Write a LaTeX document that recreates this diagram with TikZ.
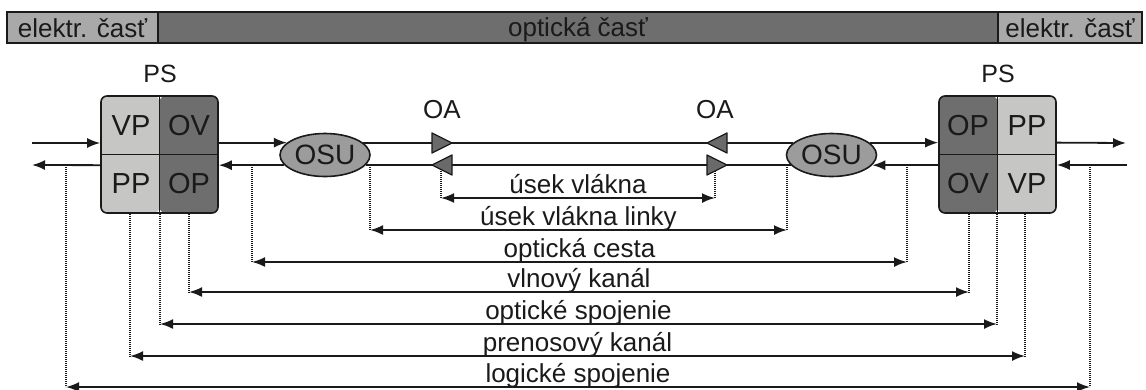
\documentclass[tikz,border=0pt]{standalone}
\usepackage{fontspec}
\setmainfont{Liberation Sans}
\usetikzlibrary{arrows.meta,shapes.geometric,calc}

\definecolor{ink}{HTML}{1A1A1A}
\definecolor{lightcell}{HTML}{C6C6C4}
\definecolor{darkcell}{HTML}{6E6E6E}
\definecolor{elekfill}{HTML}{A9A9A9}
\definecolor{optfill}{HTML}{6E6E6E}
\definecolor{osufill}{HTML}{9C9C9C}
\definecolor{oafill}{HTML}{6A6A6A}

\tikzset{
  conn/.style={draw=ink, line width=1.8pt},
  arr/.style={conn, -{Latex[length=13pt,width=10pt]}},
  dbl/.style={conn, {Latex[length=13pt,width=10pt]}-{Latex[length=13pt,width=10pt]}},
  dots/.style={draw=ink, line width=1.6pt, dash pattern=on 1.2pt off 0.8pt},
  txt/.style={text=ink, inner sep=0pt, font=\fontsize{26}{30}\selectfont},
  rowlbl/.style={txt, anchor=base, yshift=5pt},
  celltxt/.style={text=ink, inner sep=0pt, font=\fontsize{29}{32}\selectfont},
  barbox/.style={draw=ink, line width=1.8pt, minimum height=31pt, inner sep=0pt,
    text height=19pt, text depth=0pt, font=\fontsize{26}{30}\selectfont, text=ink},
  psbox/.style 2 args={draw=ink, line width=1.6pt, rounded corners=6pt,
    minimum width=117pt, minimum height=117pt, inner sep=0pt,
    path picture={
      \fill[#1] (path picture bounding box.south west) rectangle (path picture bounding box.north);
      \fill[#2] (path picture bounding box.south) rectangle (path picture bounding box.north east);
      \draw[ink, line width=1.3pt] (path picture bounding box.south) -- (path picture bounding box.north);
      \draw[ink, line width=1.3pt] (path picture bounding box.west) -- (path picture bounding box.east);
    }},
  osu/.style={ellipse, draw=ink, line width=1.6pt, fill=osufill, inner sep=0pt,
    minimum width=90pt, minimum height=43pt, text=ink, font=\fontsize{28}{30}\selectfont},
  pics/oatri/.style={code={
    \filldraw[fill=oafill, draw=ink, line width=1.3pt, line join=round]
      (-10,-10) -- (10,0) -- (-10,10) -- cycle;}}
}

\begin{document}
\begin{tikzpicture}[x=1pt, y=-1pt]
\useasboundingbox (0,0) rectangle (1146,389);

% header bar
\node[barbox, fill=optfill, minimum width=840pt, text height=17pt] (bopt) at (578,27.5) {optická časť};
\node[barbox, fill=elekfill, minimum width=151pt] (bel1) at (82.5,27.5) {elektr. časť};
\node[barbox, fill=elekfill, minimum width=144pt] (bel2) at (1070,27.5) {elektr. časť};

% terminal blocks
\node[psbox={lightcell}{darkcell}] (L) at (159.5,154.5) {};
\node[psbox={darkcell}{lightcell}] (R) at (997.5,154.5) {};
\node[txt, font=\fontsize{25}{28}\selectfont, anchor=base] (psL) at (160,82) {PS};
\node[txt, font=\fontsize{25}{28}\selectfont, anchor=base] (psR) at (998,82) {PS};

\node[celltxt] (lvp) at (131,126) {VP};
\node[celltxt] (lov) at (189,126) {OV};
\node[celltxt] (lpp) at (131,184) {PP};
\node[celltxt] (lop) at (189,184) {OP};
\node[celltxt] (rop) at (968,126) {OP};
\node[celltxt] (rpp) at (1027,126) {PP};
\node[celltxt] (rov) at (968,184) {OV};
\node[celltxt] (rvp) at (1027,184) {VP};

% multiplexers
\node[osu] (OSUL) at (325,155) {OSU};
\node[osu] (OSUR) at (831.5,155) {OSU};

% amplifier positions and labels
\coordinate (oa1) at (442,143);
\coordinate (oa2) at (442,165);
\coordinate (oa3) at (717,143);
\coordinate (oa4) at (717,165);
\node[txt, anchor=base] (oaL) at (442,118) {OA};
\node[txt, anchor=base] (oaR) at (715,118) {OA};

% free ends of the electrical lines
\coordinate (inL)  at (32,143);
\coordinate (outL) at (32,165);
\coordinate (outR) at (1126,143);
\coordinate (inR)  at (1127,165);

% measured spans: end points of each row
\coordinate (lg1) at (66,387);   \coordinate (lg2) at (1090,387);
\coordinate (pk1) at (130,356);  \coordinate (pk2) at (1025,356);
\coordinate (os1) at (160,324);  \coordinate (os2) at (997,324);
\coordinate (vk1) at (189,292);  \coordinate (vk2) at (969,292);
\coordinate (oc1) at (252,262);  \coordinate (oc2) at (907,262);
\coordinate (ul1) at (370,230);  \coordinate (ul2) at (787,230);
\coordinate (uv1) at (441,198);  \coordinate (uv2) at (715,198);

% dotted drop lines
\draw[dots] (lg1 |- outL) -- (lg1);
\draw[dots] (lg2 |- inR) -- (lg2);
\draw[dots] (pk1 |- L.south) -- (pk1);
\draw[dots] (pk2 |- R.south) -- (pk2);
\draw[dots] (os1 |- L.south) -- (os1);
\draw[dots] (os2 |- R.south) -- (os2);
\draw[dots] (vk1 |- L.south) -- (vk1);
\draw[dots] (vk2 |- R.south) -- (vk2);
\draw[dots] (oc1 |- outL) -- (oc1);
\draw[dots] (oc2 |- inR) -- (oc2);
\draw[dots] (ul1 |- outL) -- (ul1);
\draw[dots] (ul2 |- inR) -- (ul2);
\draw[dots] (uv1 |- oa2) -- (uv1);
\draw[dots] (uv2 |- oa4) -- (uv2);

% span arrows with labels
\draw[dbl] (uv1) -- (uv2) node[rowlbl, pos=0.5] {úsek vlákna};
\draw[dbl] (ul1) -- (ul2) node[rowlbl, pos=0.5] {úsek vlákna linky};
\draw[dbl] (oc1) -- (oc2) node[rowlbl, pos=0.5] {optická cesta};
\draw[dbl] (vk1) -- (vk2) node[rowlbl, pos=0.5] {vlnový kanál};
\draw[dbl] (os1) -- (os2) node[rowlbl, pos=0.5] {optické spojenie};
\draw[dbl] (pk1) -- (pk2) node[rowlbl, pos=0.5] {prenosový kanál};
\draw[dbl] (lg1) -- (lg2) node[rowlbl, pos=0.5] {logické spojenie};

% forward direction (upper line)
\draw[arr] (inL) -- (inL -| L.west);
\draw[arr] (L.east |- OSUL.162) -- (OSUL.162);
\draw[conn] (OSUL.18) -- (OSUR.162);
\draw[arr] (OSUR.18) -- (OSUR.18 -| R.west);
\draw[arr] (R.east |- OSUR.18) -- (outR);

% return direction (lower line)
\draw[arr] (inR) -- (inR -| R.east);
\draw[arr] (R.west |- OSUR.346) -- (OSUR.346);
\draw[conn] (OSUR.194) -- (OSUL.346);
\draw[arr] (OSUL.194) -- (OSUL.194 -| L.east);
\draw[arr] (L.west |- OSUL.194) -- (outL);

% optical amplifiers
\pic at (oa1) {oatri};
\pic[rotate=180] at (oa2) {oatri};
\pic[rotate=180] at (oa3) {oatri};
\pic at (oa4) {oatri};
\end{tikzpicture}
\end{document}
